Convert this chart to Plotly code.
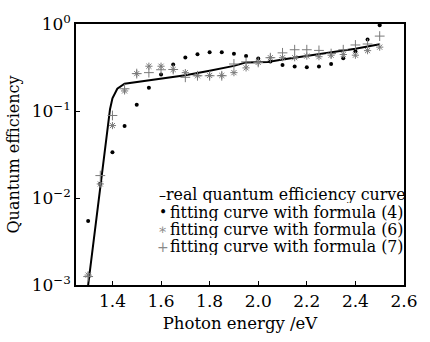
import plotly.graph_objects as go

# Real quantum efficiency curve
real_E = [1.30, 1.35, 1.38, 1.39, 1.40, 1.42, 1.45, 1.50, 1.60, 1.70, 1.80, 1.90, 1.95,
          2.00, 2.04, 2.10, 2.20, 2.30, 2.40, 2.50]
real_Q = [0.001, 0.014, 0.062, 0.105, 0.14, 0.18, 0.206, 0.215, 0.236, 0.257, 0.29, 0.33,
          0.362, 0.365, 0.366, 0.39, 0.43, 0.47, 0.52, 0.585]

# Fitting points (photon energies)
fit_E = [1.30, 1.35, 1.40, 1.45, 1.50, 1.55, 1.60, 1.65, 1.70, 1.75, 1.80, 1.85, 1.90,
         1.95, 2.00, 2.05, 2.10, 2.15, 2.20, 2.25, 2.30, 2.35, 2.40, 2.45, 2.50]

# Formula (4)
f4_Q = [0.00545, 0.0146, 0.0335, 0.0673, 0.118, 0.185, 0.263, 0.343, 0.411, 0.45, 0.473,
        0.473, 0.454, 0.428, 0.40, 0.371, 0.338, 0.324, 0.319, 0.324, 0.347, 0.403, 0.485,
        0.663, 0.97]

# Formula (6)
f6_Q = [0.0013, 0.0145, 0.068, 0.17, 0.269, 0.327, 0.327, 0.30, 0.276, 0.254, 0.256,
        0.256, 0.276, 0.313, 0.362, 0.41, 0.41, 0.41, 0.428, 0.421, 0.438, 0.446, 0.438,
        0.494, 0.542]

# Formula (7)
f7_Q = [0.00125, 0.0181, 0.0888, 0.18, 0.269, 0.276, 0.298, 0.30, 0.244, 0.254, 0.254,
        0.254, 0.347, 0.367, 0.362, 0.41, 0.466, 0.506, 0.506, 0.497, 0.457, 0.506, 0.574,
        0.589, 0.726]

series_names = ["real quantum efficiency curve",
                "fitting curve with formula (4)",
                "fitting curve with formula (6)",
                "fitting curve with formula (7)"]
legend_glyphs = ["\u2013", "\u2022", "\u2217", "+"]
legend_glyph_colors = ["black", "black", "#888888", "#888888"]

x_ticks = [1.4, 1.6, 1.8, 2.0, 2.2, 2.4, 2.6]
x_ticktext = ["1.4", "1.6", "1.8", "2.0", "2.2", "2.4", "2.6"]
y_ticks = [0.001, 0.01, 0.1, 1]
y_ticktext = ["10<sup>\u22123</sup>", "10<sup>\u22122</sup>", "10<sup>\u22121</sup>", "10<sup>0</sup>"]

FONT = "DejaVu Serif"
GRAY = "#7a7a7a"

fig = go.Figure()
fig.add_trace(go.Scatter(x=real_E, y=real_Q, mode="lines",
                         line=dict(color="black", width=2),
                         name=series_names[0]))
fig.add_trace(go.Scatter(x=fit_E, y=f4_Q, mode="markers",
                         marker=dict(symbol="circle", size=4, color="black"),
                         name=series_names[1]))
fig.add_trace(go.Scatter(x=fit_E, y=f6_Q, mode="markers",
                         marker=dict(symbol="asterisk-open", size=6, color=GRAY,
                                     line=dict(color=GRAY, width=1)),
                         name=series_names[2]))
fig.add_trace(go.Scatter(x=fit_E, y=f7_Q, mode="markers",
                         marker=dict(symbol="cross-thin-open", size=7, color=GRAY,
                                     line=dict(color=GRAY, width=1)),
                         name=series_names[3]))

# Compact legend drawn as text rows (matches reference spacing)
row_y = [0.345, 0.279, 0.213, 0.147]
glyph_x = 0.265      # centre of legend glyphs (paper)
text_x = [0.272, 0.285, 0.285, 0.285]
for name, glyph, gcol, yy, tx in zip(series_names, legend_glyphs, legend_glyph_colors, row_y, text_x):
    fig.add_annotation(xref="paper", yref="paper", x=glyph_x, y=yy,
                       xanchor="center", yanchor="middle", showarrow=False,
                       text=glyph, font=dict(size=14, family=FONT, color=gcol),
                       borderpad=0, height=16)
    fig.add_annotation(xref="paper", yref="paper", x=tx, y=yy,
                       xanchor="left", yanchor="middle", showarrow=False,
                       text=name, font=dict(size=15.8, family=FONT, color="black"),
                       borderpad=0, height=17, valign="middle")

fig.update_layout(
    width=430, height=342,
    margin=dict(l=70, r=15, t=18, b=50),
    paper_bgcolor="white", plot_bgcolor="white",
    font=dict(family=FONT, color="black", size=16),
    showlegend=False,
)
fig.update_xaxes(range=[1.25, 2.6], tickvals=x_ticks, ticktext=x_ticktext,
                 ticks="inside", ticklen=4, tickcolor="black",
                 showline=True, linecolor="black", linewidth=1.5, mirror=True,
                 showgrid=False, zeroline=False,
                 tickfont=dict(size=17, family=FONT),
                 title=dict(text="Photon energy /eV", font=dict(size=16.5, family=FONT), standoff=7))
fig.update_yaxes(type="log", range=[-3, 0], tickvals=y_ticks, ticktext=y_ticktext,
                 ticks="inside", ticklen=4, tickcolor="black",
                 showline=True, linecolor="black", linewidth=1.5, mirror=True,
                 showgrid=False, zeroline=False,
                 tickfont=dict(size=17, family=FONT),
                 title=dict(text="Quantum efficiency", font=dict(size=16, family=FONT), standoff=8))

fig.write_html("out.html",
               config={"displayModeBar": False},
               post_script="document.body.style.margin='0px';document.body.style.overflow='hidden';")
